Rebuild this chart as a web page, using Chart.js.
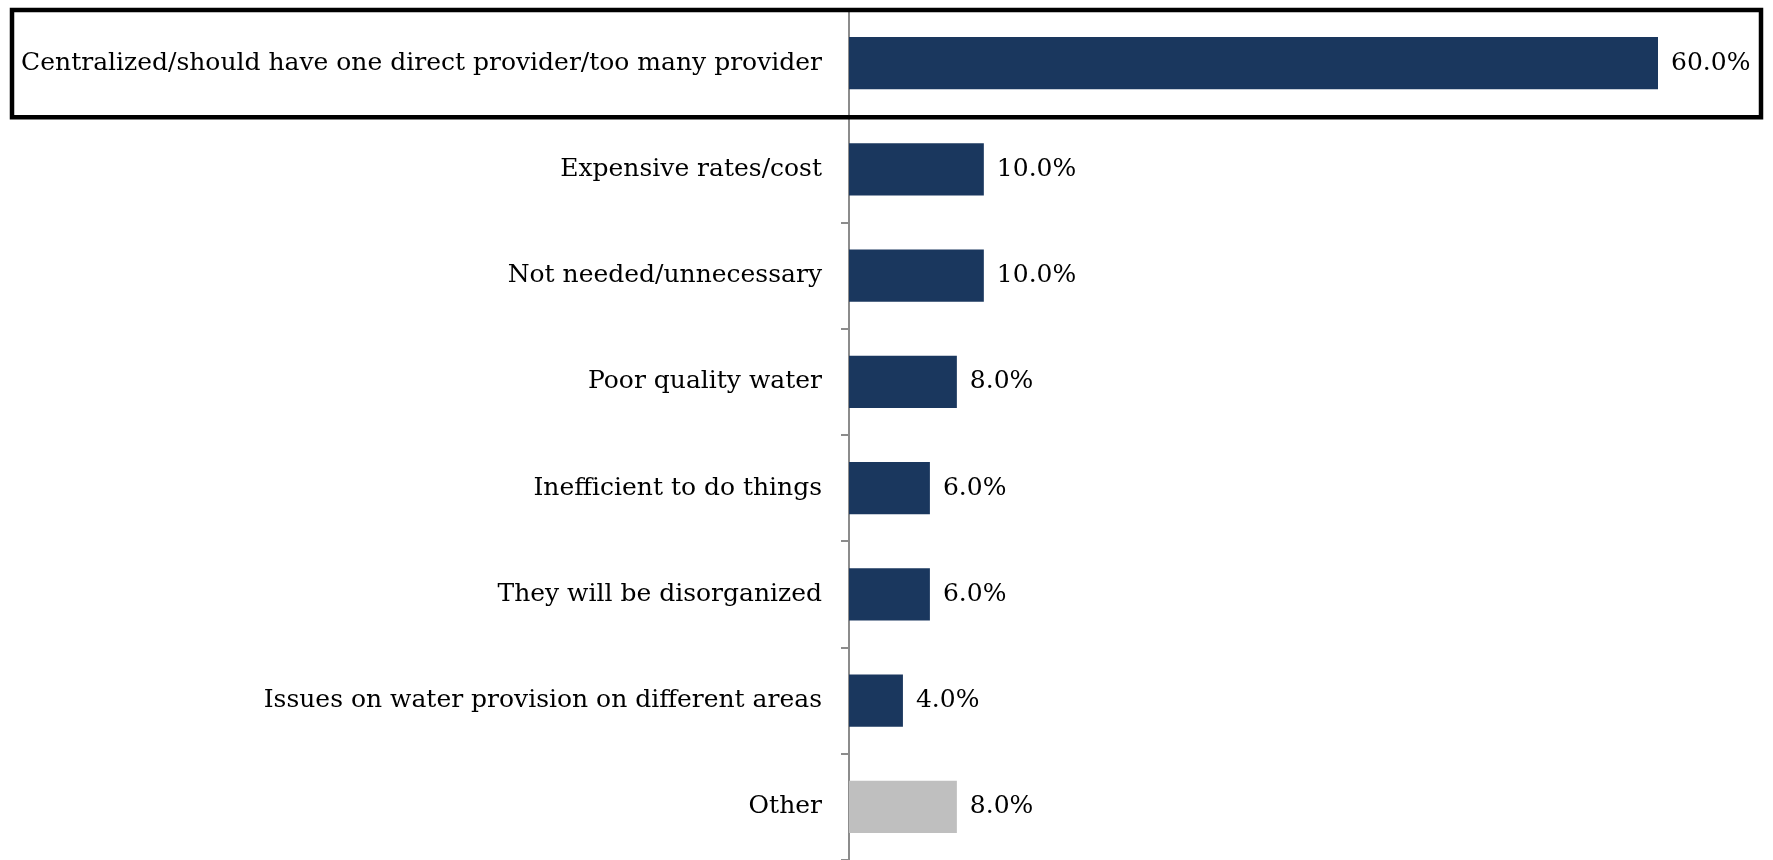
<!DOCTYPE html>
<html>
<head>
<meta charset="utf-8">
<script src="https://cdn.jsdelivr.net/npm/chart.js@4.4.0/dist/chart.umd.min.js"></script>
<style>
    html, body { margin: 0; padding: 0; background: #ffffff; }
    #wrap { width: 1773px; height: 860px; }
</style>
</head>
<body>
<div id="wrap"><canvas id="chart-bar" width="1773" height="860"></canvas></div>
<script>
var categories = [
    "Centralized/should have one direct provider/too many provider",
    "Expensive rates/cost",
    "Not needed/unnecessary",
    "Poor quality water",
    "Inefficient to do things",
    "They will be disorganized",
    "Issues on water provision on different areas",
    "Other"
];
var shares = [60.0, 10.0, 10.0, 8.0, 6.0, 6.0, 4.0, 8.0];
var barColors = ["#1a375e", "#1a375e", "#1a375e", "#1a375e", "#1a375e", "#1a375e", "#1a375e", "#bfbfbf"];

var labelFont = "'DejaVu Serif', Georgia, serif";

// value labels at the end of each bar
var valueLabels = {
    id: "valueLabels",
    afterDatasetsDraw: function(chart) {
        var ctx = chart.ctx;
        var meta = chart.getDatasetMeta(0);
        ctx.save();
        ctx.fillStyle = "#000000";
        ctx.font = "25px " + labelFont;
        ctx.textAlign = "left";
        ctx.textBaseline = "middle";
        meta.data.forEach(function(bar, i) {
            ctx.fillText(shares[i].toFixed(1) + "%", bar.x + 13, bar.y);
        });
        ctx.restore();
    }
};

// black frame around the first row
var highlightBox = {
    id: "highlightBox",
    afterDraw: function(chart) {
        var y = chart.scales.y;
        var band = (y.bottom - y.top) / categories.length;
        var ctx = chart.ctx;
        ctx.save();
        ctx.strokeStyle = "#000000";
        ctx.lineWidth = 4.5;
        ctx.strokeRect(12, y.top, chart.width - 24, band + 1);
        ctx.restore();
    }
};

new Chart(document.getElementById("chart-bar").getContext("2d"), {
    type: "bar",
    data: {
        labels: categories,
        datasets: [{
            data: shares,
            backgroundColor: barColors,
            borderWidth: 0,
            barPercentage: 0.49,
            categoryPercentage: 1.0
        }]
    },
    options: {
        indexAxis: "y",
        responsive: false,
        animation: false,
        layout: {
            padding: { left: 0, right: 115, top: 10, bottom: 0 }
        },
        plugins: {
            legend: { display: false },
            tooltip: { enabled: false }
        },
        scales: {
            x: {
                display: false,
                min: 0,
                max: 60
            },
            y: {
                afterFit: function(scale) {
                    scale.width = 849;
                    scale.paddingTop = 0;
                    scale.paddingBottom = 0;
                },
                border: {
                    display: true,
                    color: "#8c8c8c",
                    width: 2
                },
                grid: {
                    display: true,
                    drawOnChartArea: false,
                    drawTicks: true,
                    tickLength: 8,
                    color: "#8c8c8c",
                    lineWidth: 2
                },
                ticks: {
                    color: "#000000",
                    padding: 19,
                    font: {
                        size: 25,
                        family: labelFont
                    }
                }
            }
        }
    },
    plugins: [valueLabels, highlightBox]
});
</script>
</body>
</html>
